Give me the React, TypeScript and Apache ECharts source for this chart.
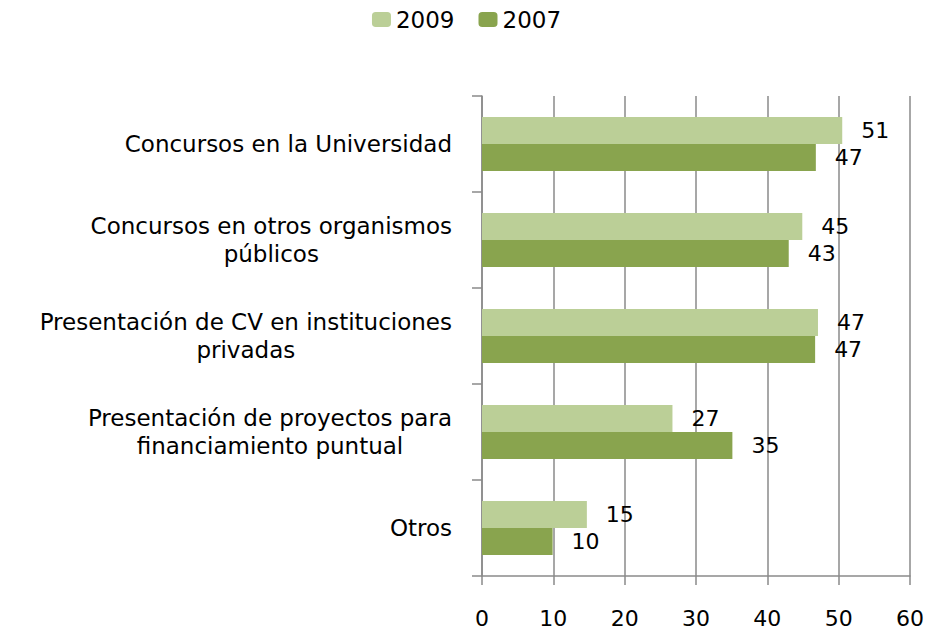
import React, { useEffect, useRef } from "react";
import * as echarts from "echarts";

const categories = [
  "Concursos en la Universidad",
  "Concursos en otros organismos\npúblicos",
  "Presentación de CV en instituciones\nprivadas",
  "Presentación de proyectos para\nfinanciamiento puntual",
  "Otros",
];
const series2009 = [50.5, 44.9, 47.1, 26.7, 14.7];
const series2007 = [46.8, 43.0, 46.7, 35.1, 9.9];
const xTicks = [0, 10, 20, 30, 40, 50, 60];

const FONT = "DejaVu Sans";
const GRAY = "#8a8a8a";

export default function App() {
  const ref = useRef<HTMLDivElement>(null);
  useEffect(() => {
    if (!ref.current) return;
    const chart = echarts.init(ref.current, undefined, { renderer: "svg" });
    const label = {
      show: true,
      position: "right" as const,
      distance: 19,
      color: "#000",
      fontFamily: FONT,
      fontSize: 22,
      formatter: (p: any) => String(Math.round(p.value)),
    };
    chart.setOption({
      animation: false,
      backgroundColor: "#fff",
      textStyle: { fontFamily: FONT },
      legend: {
        top: 3,
        left: "center",
        itemWidth: 19,
        itemHeight: 15,
        itemGap: 24,
        textStyle: { fontFamily: FONT, fontSize: 23, color: "#000" },
        data: ["2009", "2007"],
      },
      grid: { left: 482, right: 23, top: 96, bottom: 55, containLabel: false },
      xAxis: {
        type: "value",
        min: xTicks[0],
        max: xTicks[xTicks.length - 1],
        interval: 10,
        axisLine: { show: true, lineStyle: { color: GRAY, width: 1.5 } },
        axisTick: { show: true, length: 9, lineStyle: { color: GRAY, width: 1.5 } },
        splitLine: { show: true, lineStyle: { color: GRAY, width: 1.5 } },
        axisLabel: { margin: 31, color: "#000", fontFamily: FONT, fontSize: 22 },
      },
      yAxis: {
        type: "category",
        inverse: true,
        data: categories,
        axisLine: { show: true, lineStyle: { color: GRAY, width: 1.5 } },
        axisTick: { show: true, length: 10, lineStyle: { color: GRAY, width: 1.5 } },
        axisLabel: {
          margin: 30,
          color: "#000",
          formatter: (v: string) => `{a|${v}}`,
          rich: {
            a: {
              align: "center",
              fontFamily: FONT,
              fontSize: 23,
              lineHeight: 28,
              color: "#000",
            },
          },
        },
      },
      series: [
        {
          name: "2009",
          type: "bar",
          data: series2009,
          barGap: "0%",
          barCategoryGap: "44%",
          itemStyle: { color: "#bbcf97" },
          label,
        },
        {
          name: "2007",
          type: "bar",
          data: series2007,
          barGap: "0%",
          barCategoryGap: "44%",
          itemStyle: { color: "#89a44e" },
          label,
        },
      ],
    });
    return () => chart.dispose();
  }, []);
  return <div ref={ref} style={{ width: 933, height: 631, position: "absolute", left: 0, top: 0 }} />;
}
